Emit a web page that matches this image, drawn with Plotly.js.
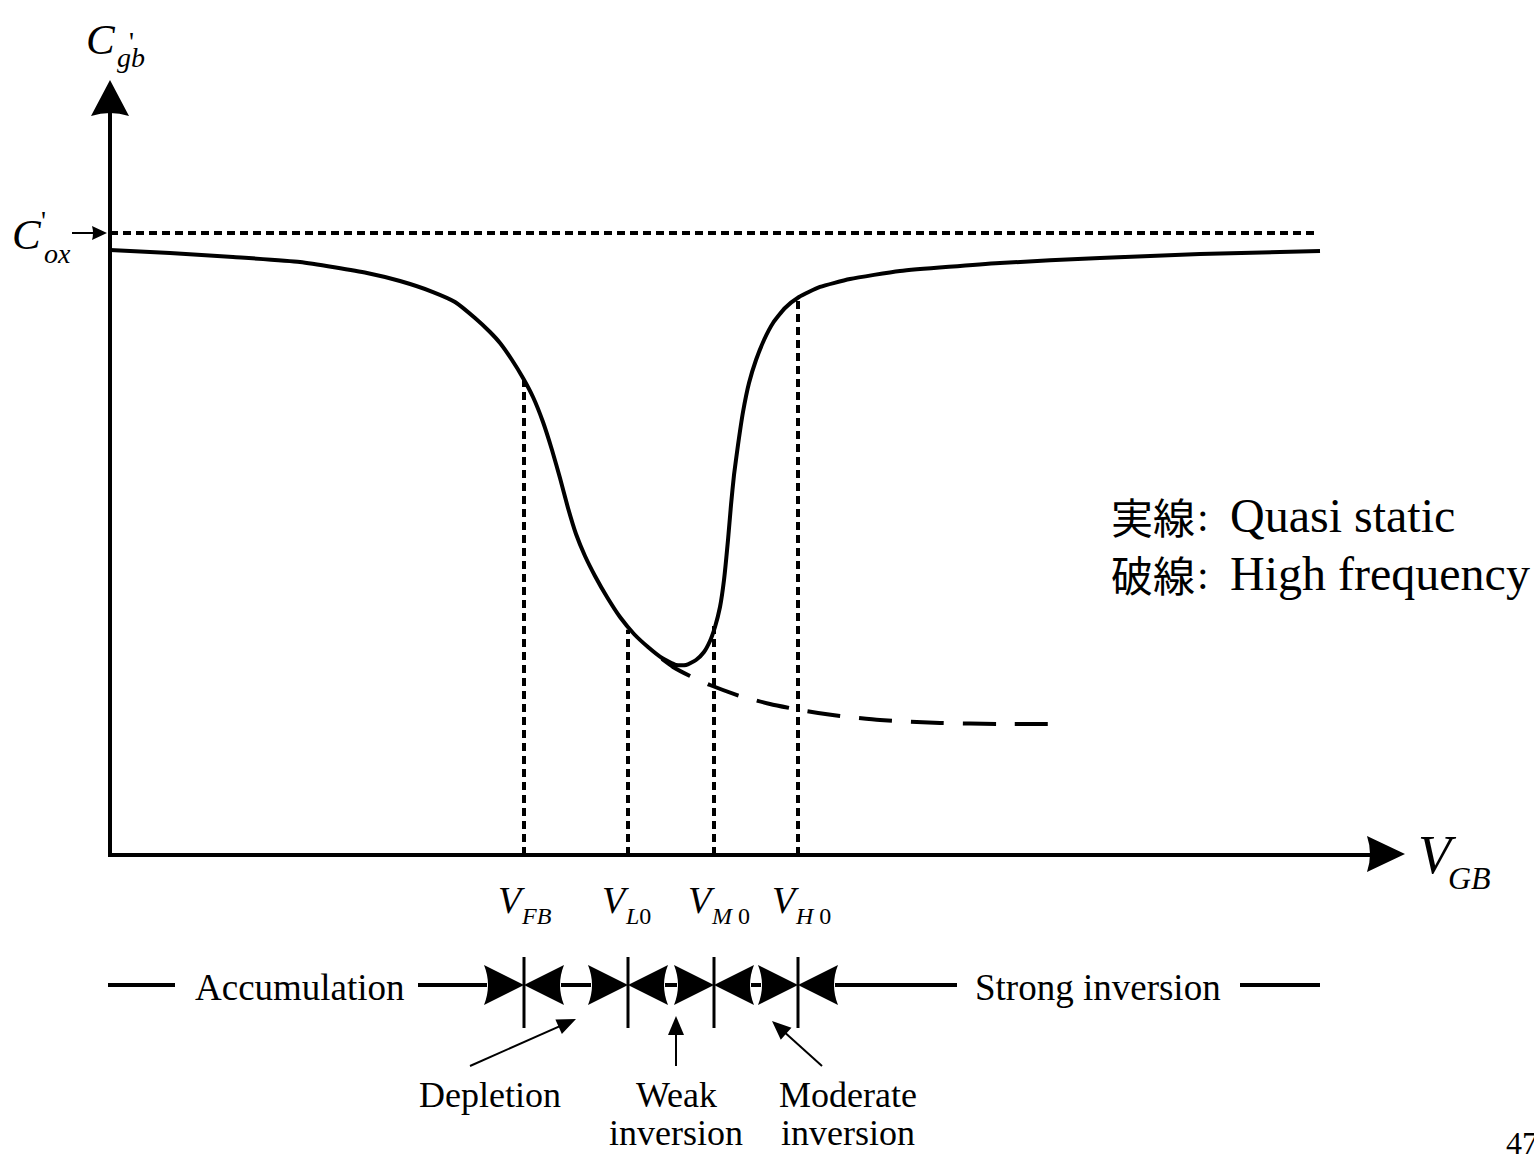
<!DOCTYPE html>
<html>
<head>
<meta charset="utf-8">
<script src="https://cdn.plot.ly/plotly-3.0.1.min.js"></script>
<style>html,body{margin:0;padding:0;background:#fff;}#chart{width:1534px;height:1154px;}</style>
</head>
<body>
<div id="chart"></div>
<script>
// ---------------- data (V_GB in arbitrary units, C'gb normalised to C'ox) ----------------
const vgbQS = [0.00,0.60,1.23,1.90,2.57,2.90,3.23,3.45,3.65,3.80,3.90,4.02,4.13,4.23,4.33,4.42,4.50,4.58,4.66,4.75,4.85,4.97,5.10,5.24,5.38,5.52,5.66,5.76,5.86,5.94,6.00,6.05,6.10,6.14,6.18,6.21,6.24,6.28,6.33,6.39,6.46,6.54,6.63,6.75,6.89,7.10,7.40,7.90,8.90,9.90,10.90,12.10];
const cQS   = [0.9727,0.9678,0.9614,0.9534,0.9357,0.9228,0.9051,0.8891,0.8633,0.8408,0.8232,0.7958,0.7669,0.7363,0.6961,0.6511,0.6061,0.5579,0.5161,0.4807,0.4486,0.4148,0.3826,0.3553,0.3344,0.3167,0.3055,0.3055,0.3135,0.3264,0.3441,0.3666,0.3987,0.4421,0.5064,0.5627,0.6109,0.6592,0.7122,0.7588,0.7958,0.8280,0.8553,0.8794,0.8971,0.9132,0.9260,0.9389,0.9518,0.9598,0.9662,0.9711];
const vgbHF = [5.52,5.63,5.80,6.00,6.30,6.60,6.90,7.30,7.70,8.30,8.90,9.45];
const cHF   = [0.3151,0.3023,0.2878,0.2733,0.2556,0.2428,0.2331,0.2235,0.2170,0.2122,0.2106,0.2106];
const coxValue = 1.0;
const coxEnd = 12.05;
const boundaryV    = [4.14, 5.18, 6.04, 6.88];
const boundaryTopC = [0.767, 0.362, 0.370, 0.897];
const boundaryMain = ['V','V','V','V'];
const boundarySub  = ['<i>FB</i>','<i>L</i>0','<i>M</i> 0','<i>H</i> 0'];
const regionNames  = ['Accumulation','Depletion','Weak<br>inversion','Moderate<br>inversion','Strong inversion'];
const legendKeys   = ['実線','破線'];
const legendDescs  = ['Quasi static','High frequency'];

// ---------------- geometry helpers (layout only) ----------------
const W = 1534, H = 1154;
const PX0 = 110, PXU = 100, PY0 = 855, PYU = 622;
const X = px => (px - PX0) / PXU;
const Y = py => (PY0 - py) / PYU;
const bpx = v => PX0 + v * PXU;

const SERIF = 'Liberation Serif, Times New Roman, serif';
const CJK = 'Noto Sans CJK JP, sans-serif';
const shapes = [];
const annotations = [];

function seg(x0, y0, x1, y1, w) {
  shapes.push({type:'line', xref:'x', yref:'y', x0:X(x0), y0:Y(y0), x1:X(x1), y1:Y(y1),
               line:{color:'black', width:w}});
}
function head(tx, ty, dx, dy, len, hw, notch) {
  const n = Math.hypot(dx, dy); dx /= n; dy /= n;
  const bx = tx - dx*len, by = ty - dy*len;
  const ox = -dy, oy = dx;
  const a = [bx + ox*hw, by + oy*hw], b = [bx - ox*hw, by - oy*hw];
  const c = [bx + dx*2*notch, by + dy*2*notch];
  shapes.push({type:'path', xref:'x', yref:'y',
    path:`M${X(tx)},${Y(ty)} L${X(a[0])},${Y(a[1])} Q${X(c[0])},${Y(c[1])} ${X(b[0])},${Y(b[1])} Z`,
    fillcolor:'black', line:{color:'black', width:0}});
}
function txt(text, px, py, size, xanchor, family, yanchor) {
  annotations.push({text:text, x:X(px), y:Y(py), xref:'x', yref:'y', showarrow:false,
    xanchor:xanchor || 'center', yanchor:yanchor || 'middle', borderpad:0,
    font:{family:family || SERIF, size:size, color:'black'}});
}

// axes
seg(110, 857, 110, 112, 4);
head(110, 80, 0, -1, 36, 19, 3);
seg(108, 855, 1372, 855, 4);
head(1405, 854, 1, 0, 38, 18, 3);
// C'ox pointer
seg(72, 233, 98, 233, 2);
head(107, 233, 1, 0, 15, 7, 1);

// region bar
const RY = 985, AL = 40, AH = 20, AN = 4;
const bx = boundaryV.map(bpx);
seg(108, RY, 175, RY, 4);
seg(418, RY, bx[0] - AL + 3, RY, 4);
head(bx[0], RY, 1, 0, AL, AH, AN);
for (let i = 0; i < bx.length; i++) {
  head(bx[i], RY, -1, 0, AL, AH, AN);
  if (i > 0) head(bx[i], RY, 1, 0, AL, AH, AN);
  if (i < bx.length - 1) seg(bx[i] + AL - 3, RY, bx[i+1] - AL + 3, RY, 4);
  seg(bx[i], 957, bx[i], 1028, 3);
}
seg(bx[3] + AL - 3, RY, 957, RY, 4);
seg(1240, RY, 1320, RY, 4);

// region labels
txt(regionNames[0], 300, 987, 37);
txt(regionNames[4], 1098, 987, 37);
// pointer arrows for the narrow regions
const ptr = [
  {name:regionNames[1], tail:[470,1066], tip:[576,1019], lx:490},
  {name:regionNames[2], tail:[676,1066], tip:[676,1016], lx:676},
  {name:regionNames[3], tail:[822,1066], tip:[772,1021], lx:848}
];
ptr.forEach(p => {
  const dx = p.tip[0]-p.tail[0], dy = p.tip[1]-p.tail[1], n = Math.hypot(dx,dy);
  seg(p.tail[0], p.tail[1], p.tip[0]-dx/n*12, p.tip[1]-dy/n*12, 2);
  head(p.tip[0], p.tip[1], dx, dy, 19, 8, 0);
  const parts = p.name.split('<br>');
  txt(parts[0], p.lx, 1095, 36);
  if (parts[1]) txt(parts[1], p.lx, 1154, 36, 'center', SERIF, 'bottom');
});

// boundary labels
bx.forEach((x, i) => {
  txt('<i>' + boundaryMain[i] + '</i>', x + 2, 900, 38, 'right');
  txt(boundarySub[i], x - 4, 916, 24, 'left');
});

// axis labels
txt('<i>C</i>', 101, 39, 43);
txt("'", 131, 41, 28);
txt('<i>gb</i>', 116, 57, 28, 'left');
txt('<i>C</i>', 11, 234, 43, 'left');
txt("'", 43, 220, 28);
txt('<i>ox</i>', 43, 253, 28, 'left');
txt('<i>V</i>', 1417, 855, 54, 'left');
txt('<i>GB</i>', 1447, 878, 32, 'left');

// legend text
const LY = [515, 573];
legendKeys.forEach((k, i) => {
  txt(k, 1110, LY[i], 42, 'left', CJK);
  txt(':', 1203, LY[i] + 2, 42, 'center', SERIF);
  txt(legendDescs[i], 1229, LY[i], 48, 'left', SERIF);
});
// page number (cropped at the edge, as in the reference)
txt('47', 1505, 1143, 32, 'left');

// ---------------- traces ----------------
const traces = [
  {x:vgbQS, y:cQS, mode:'lines', line:{color:'black', width:4, shape:'spline', smoothing:0.5}},
  {x:vgbHF, y:cHF, mode:'lines', line:{color:'black', width:4, dash:'33px,19px', shape:'spline', smoothing:0.5}},
  {x:[0, coxEnd], y:[coxValue, coxValue], mode:'lines', line:{color:'black', width:4, dash:'8px,5px'}}
];
boundaryV.forEach((v, i) => {
  traces.push({x:[v, v], y:[0, boundaryTopC[i]], mode:'lines', line:{color:'black', width:4, dash:'8px,5px'}});
});

const layout = {
  width:W, height:H, margin:{l:0, r:0, t:0, b:0, pad:0},
  paper_bgcolor:'white', plot_bgcolor:'white', showlegend:false, hovermode:false,
  xaxis:{range:[X(0), X(W)], visible:false, fixedrange:true},
  yaxis:{range:[Y(H), Y(0)], visible:false, fixedrange:true},
  shapes:shapes, annotations:annotations
};
Plotly.newPlot('chart', traces, layout, {staticPlot:true, displayModeBar:false});
</script>
</body>
</html>
